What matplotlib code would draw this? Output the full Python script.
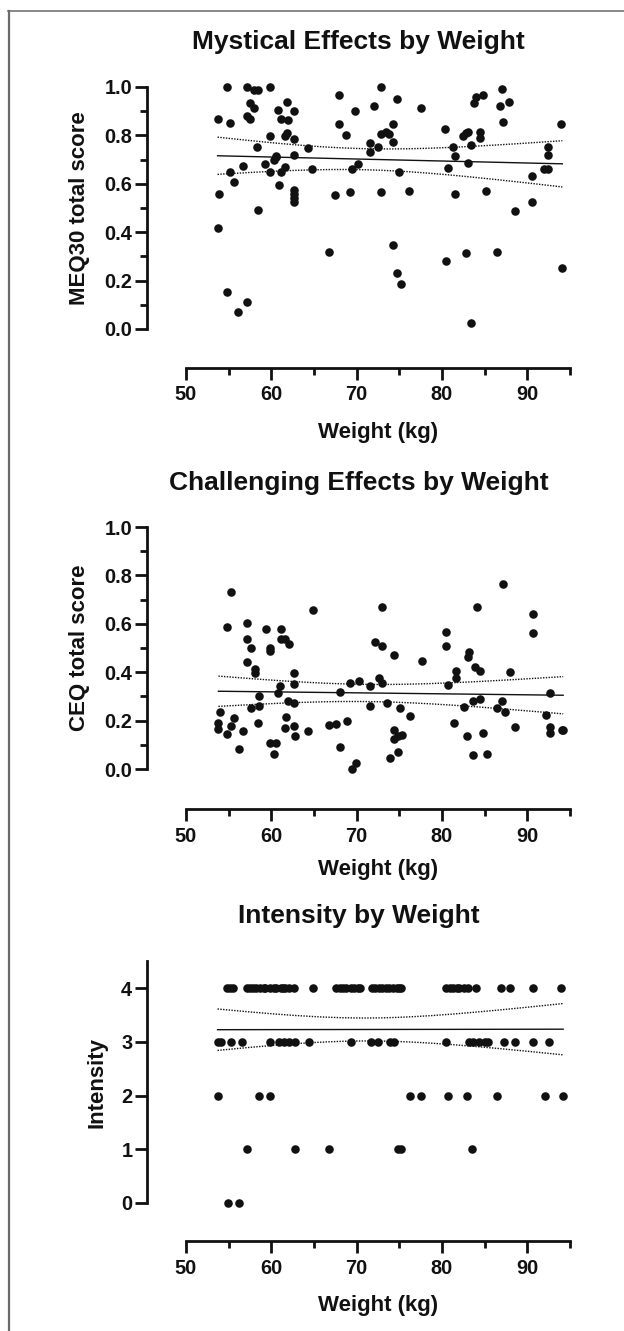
#!/usr/bin/env python3
"""Three stacked Prism-style scatter panels: outcome vs weight, with
linear fit and 95% confidence band.

Output: out.png (624 x 1331 px)
"""

import matplotlib.pyplot as plt
import numpy as np
from matplotlib.lines import Line2D
from matplotlib.ticker import FixedLocator, FormatStrFormatter

plt.rcParams["font.family"] = ["Liberation Sans", "DejaVu Sans"]
plt.rcParams["font.weight"] = "bold"

# ---- data ------------------------------------------------------------------
meq_weight = [53.7, 53.9, 53.7, 54.8, 55.2, 55.2, 54.8, 55.6, 56.1, 56.7,
              57.1, 57.1, 57.5, 57.5, 58.0, 58.0, 58.4, 58.3, 58.4, 57.1,
              59.8, 59.8, 59.8, 59.3, 60.8, 61.1, 61.8, 62.0, 62.6, 61.6,
              61.8, 62.7, 60.5, 60.3, 60.6, 61.1, 61.6, 60.9, 62.7, 62.6,
              62.6, 62.6, 62.6, 64.3, 64.8, 66.7, 67.5, 67.9, 67.9, 68.8,
              69.2, 69.4, 69.8, 70.2, 72.0, 71.6, 71.6, 72.5, 72.9, 72.9,
              73.4, 73.8, 72.9, 74.3, 74.3, 74.7, 74.3, 74.7, 75.2, 75.0,
              76.1, 77.5, 80.4, 80.5, 80.7, 81.3, 81.5, 81.5, 82.5, 82.8,
              83.0, 82.8, 83.1, 83.4, 83.4, 83.7, 84.0, 84.4, 84.4, 84.8,
              85.2, 86.4, 86.8, 87.0, 87.1, 87.9, 88.5, 90.6, 90.6, 92.4,
              92.4, 91.9, 92.4, 93.9, 94.1]
meq_score = [0.868, 0.559, 0.419, 1.0, 0.851, 0.647, 0.152, 0.606, 0.072, 0.674,
             1.0, 0.881, 0.868, 0.934, 0.913, 0.989, 0.986, 0.753, 0.492, 0.113,
             1.0, 0.799, 0.647, 0.680, 0.906, 0.868, 0.939, 0.862, 0.901, 0.799,
             0.810, 0.785, 0.710, 0.699, 0.716, 0.650, 0.669, 0.594, 0.719, 0.575,
             0.559, 0.542, 0.524, 0.746, 0.661, 0.319, 0.554, 0.966, 0.847, 0.801,
             0.566, 0.661, 0.901, 0.680, 0.920, 0.768, 0.732, 0.754, 1.0, 0.807,
             0.812, 0.807, 0.566, 0.847, 0.774, 0.952, 0.346, 0.233, 0.188, 0.647,
             0.572, 0.913, 0.826, 0.279, 0.666, 0.754, 0.713, 0.559, 0.799, 0.810,
             0.815, 0.312, 0.688, 0.759, 0.026, 0.934, 0.959, 0.812, 0.790, 0.966,
             0.572, 0.319, 0.920, 0.992, 0.854, 0.939, 0.486, 0.633, 0.524, 0.754,
             0.719, 0.661, 0.661, 0.847, 0.251]

ceq_weight = [53.8, 53.8, 54.0, 54.8, 54.8, 55.3, 55.3, 55.6, 56.2, 56.7,
              57.1, 57.1, 57.1, 57.6, 57.6, 58.1, 58.1, 58.5, 58.5, 58.4,
              59.4, 59.9, 59.9, 59.9, 60.6, 60.3, 61.1, 61.1, 61.6, 62.1,
              61.0, 60.8, 62.6, 62.6, 61.9, 62.6, 61.7, 61.6, 62.6, 62.8,
              64.3, 64.9, 66.7, 67.6, 68.0, 68.0, 68.9, 69.2, 69.4, 69.9,
              70.3, 71.6, 71.6, 72.1, 72.6, 73.0, 73.0, 73.0, 73.5, 73.9,
              74.4, 74.4, 74.4, 74.8, 74.8, 75.1, 75.3, 76.2, 77.7, 80.5,
              80.5, 80.7, 81.6, 81.6, 81.4, 82.6, 83.0, 83.2, 82.9, 83.6,
              83.6, 83.9, 84.5, 84.1, 84.5, 84.8, 85.3, 86.5, 87.0, 87.1,
              87.4, 88.0, 88.5, 90.7, 90.7, 92.2, 92.6, 92.6, 92.6, 94.1,
              94.2]
ceq_score = [0.189, 0.167, 0.236, 0.585, 0.145, 0.730, 0.178, 0.210, 0.083, 0.159,
             0.603, 0.539, 0.444, 0.502, 0.251, 0.415, 0.396, 0.302, 0.261, 0.189,
             0.578, 0.502, 0.488, 0.109, 0.109, 0.062, 0.578, 0.539, 0.539, 0.516,
             0.341, 0.313, 0.396, 0.350, 0.279, 0.272, 0.215, 0.168, 0.179, 0.138,
             0.159, 0.655, 0.182, 0.188, 0.320, 0.092, 0.199, 0.354, 0.0, 0.026,
             0.364, 0.345, 0.261, 0.526, 0.374, 0.510, 0.668, 0.354, 0.274, 0.047,
             0.470, 0.163, 0.124, 0.137, 0.069, 0.254, 0.142, 0.218, 0.448, 0.566,
             0.509, 0.348, 0.403, 0.375, 0.192, 0.258, 0.461, 0.484, 0.137, 0.281,
             0.058, 0.423, 0.403, 0.669, 0.291, 0.149, 0.061, 0.254, 0.279, 0.766,
             0.234, 0.399, 0.172, 0.639, 0.561, 0.223, 0.316, 0.175, 0.150, 0.161,
             0.161]

# intensity: weights of subjects at each rating (overlapping dots estimated)
int4_weight = [54.8, 55.1, 55.5, 57.1, 57.5, 57.9, 58.2, 58.7, 59.1, 59.3,
               59.9, 60.3, 60.5, 61.1, 61.4, 61.6, 62.1, 62.6, 64.9, 67.6,
               68.0, 68.4, 68.8, 69.3, 69.7, 70.1, 70.4, 71.8, 72.2, 72.6,
               73.0, 73.4, 73.8, 74.3, 74.7, 75.0, 75.2, 80.5, 80.9, 81.3,
               81.7, 82.0, 82.6, 83.0, 84.0, 86.9, 88.0, 90.7, 94.0]
int3_weight = [53.7, 54.1, 55.3, 56.6, 59.9, 60.9, 61.5, 62.1, 62.8, 64.4,
               69.3, 71.7, 72.5, 73.9, 74.4, 80.5, 83.2, 83.6, 84.3, 85.0,
               85.4, 87.3, 88.5, 90.7, 92.5]
int2_weight = [53.8, 58.5, 59.9, 76.2, 77.5, 80.7, 82.9, 86.5, 92.1, 94.2]
int1_weight = [57.2, 62.8, 66.7, 74.8, 75.2, 83.5]
int0_weight = [54.9, 56.2]

# ---- layout (pixels in a 624 x 1331 canvas) --------------------------------
FIG_W, FIG_H = 624, 1331
DPI = 100
X_LEFT, X_RIGHT = 147, 570          # left spine .. x = 95
X50 = 186                            # pixel of x = 50
INK = "#111111"
FRAME = "#6a6a6a"
T_CRIT = 1.98                        # two-sided 95%, ~100 df


def px_rect(top, bottom):
    return [X_LEFT / FIG_W, 1 - bottom / FIG_H,
            (X_RIGHT - X_LEFT) / FIG_W, (bottom - top) / FIG_H]


def fx(px):
    return px / FIG_W


def fy(py):
    return 1 - py / FIG_H


def draw_panel(fig, top, bottom, x, y, ylim, ybound, yticks, yminor, yfmt,
               title, ylabel, title_y, xlabel_y, ylabel_x):
    ax = fig.add_axes(px_rect(top, bottom))
    x = np.asarray(x, float)
    y = np.asarray(y, float)

    ax.scatter(x, y, s=38, color=INK, linewidths=0, clip_on=False, zorder=3)

    # least-squares line + 95% confidence band of the mean
    n = len(x)
    slope, icpt = np.polyfit(x, y, 1)
    xs = np.linspace(x.min(), x.max(), 200)
    yhat = icpt + slope * xs
    resid = y - (icpt + slope * x)
    s = np.sqrt(np.sum(resid ** 2) / (n - 2))
    se = s * np.sqrt(1 / n + (xs - x.mean()) ** 2 / np.sum((x - x.mean()) ** 2))
    ax.plot(xs, yhat, color=INK, lw=1.0, zorder=2)
    ax.plot(xs, yhat + T_CRIT * se, color=INK, lw=1.0, ls=(0, (1.0, 1.0)), zorder=2)
    ax.plot(xs, yhat - T_CRIT * se, color=INK, lw=1.0, ls=(0, (1.0, 1.0)), zorder=2)

    x0 = 50 - (X50 - X_LEFT) * 45 / (X_RIGHT - X50)
    ax.set_xlim(x0, 95)
    ax.set_ylim(*ylim)
    ax.patch.set_visible(False)

    for side in ("top", "right"):
        ax.spines[side].set_visible(False)
    for side in ("left", "bottom"):
        ax.spines[side].set_linewidth(2.0)
        ax.spines[side].set_color(INK)
        ax.spines[side].set_capstyle("projecting")
    ax.spines["left"].set_bounds(*ybound)
    ax.spines["bottom"].set_bounds(50, 95)

    ax.xaxis.set_major_locator(FixedLocator([50, 60, 70, 80, 90]))
    ax.xaxis.set_minor_locator(FixedLocator([55, 65, 75, 85, 95]))
    ax.yaxis.set_major_locator(FixedLocator(yticks))
    ax.yaxis.set_minor_locator(FixedLocator(yminor))
    ax.yaxis.set_major_formatter(FormatStrFormatter(yfmt))

    ax.tick_params(which="major", length=8.6, width=2.0, color=INK,
                   labelsize=14.4, labelcolor=INK)
    ax.tick_params(which="minor", length=5.0, width=2.0, color=INK)
    ax.tick_params(axis="y", which="major", pad=2)
    ax.tick_params(axis="x", which="major", pad=4)
    for lab in ax.get_xticklabels() + ax.get_yticklabels():
        lab.set_fontweight("bold")

    # texts placed in figure pixels, like the reference
    fig.text(fx((X_LEFT + X_RIGHT) / 2), fy(title_y), title,
             ha="center", va="center", fontsize=19, fontweight="bold", color=INK)
    fig.text(fx((X50 + X_RIGHT) / 2), fy(xlabel_y), "Weight (kg)",
             ha="center", va="center", fontsize=16, fontweight="bold", color=INK)
    span_top = top + (ylim[1] - ybound[1]) / (ylim[1] - ylim[0]) * (bottom - top)
    span_bot = top + (ylim[1] - ybound[0]) / (ylim[1] - ylim[0]) * (bottom - top)
    fig.text(fx(ylabel_x), fy((span_top + span_bot) / 2), ylabel, rotation=90,
             ha="center", va="center", fontsize=16, fontweight="bold", color=INK)
    return ax


def main():
    fig = plt.figure(figsize=(FIG_W / DPI, FIG_H / DPI), dpi=DPI)
    fig.patch.set_facecolor("white")

    score_ticks = [0.0, 0.2, 0.4, 0.6, 0.8, 1.0]
    score_minor = [0.1, 0.3, 0.5, 0.7, 0.9]

    # panel 1: y=1.0 at 87 px, y=0 at 329 px, x axis at 368 px
    draw_panel(fig, 87, 368, meq_weight, meq_score,
               ylim=(-(368 - 329) / 242, 1.0), ybound=(0, 1.0),
               yticks=score_ticks, yminor=score_minor, yfmt="%.1f",
               title="Mystical Effects by Weight", ylabel="MEQ30 total score",
               title_y=42, xlabel_y=432, ylabel_x=79)

    # panel 2: y=1.0 at 527 px, y=0 at 769 px, x axis at 809 px
    draw_panel(fig, 527, 809, ceq_weight, ceq_score,
               ylim=(-(809 - 769) / 242, 1.0), ybound=(0, 1.0),
               yticks=score_ticks, yminor=score_minor, yfmt="%.1f",
               title="Challenging Effects by Weight", ylabel="CEQ total score",
               title_y=483, xlabel_y=870, ylabel_x=79)

    # panel 3: 4 at 988 px, 0 at 1203 px, x axis at 1241 px
    int_x = int4_weight + int3_weight + int2_weight + int1_weight + int0_weight
    int_y = ([4] * len(int4_weight) + [3] * len(int3_weight) +
             [2] * len(int2_weight) + [1] * len(int1_weight) +
             [0] * len(int0_weight))
    unit = (1203 - 988) / 4
    top3 = 1203 - 4.5 * unit
    draw_panel(fig, top3, 1241, int_x, int_y,
               ylim=(-(1241 - 1203) / unit, 4.5), ybound=(0, 4.5),
               yticks=[0, 1, 2, 3, 4], yminor=[], yfmt="%d",
               title="Intensity by Weight", ylabel="Intensity",
               title_y=916, xlabel_y=1305, ylabel_x=97)

    # thin grey frame (top and left edges only)
    fig.add_artist(Line2D([fx(8), 1.0], [fy(11), fy(11)],
                          transform=fig.transFigure, color=FRAME, lw=1.1))
    fig.add_artist(Line2D([fx(9), fx(9)], [fy(11), 0.0],
                          transform=fig.transFigure, color=FRAME, lw=1.6))

    fig.savefig("out.png", dpi=DPI)


if __name__ == "__main__":
    main()
